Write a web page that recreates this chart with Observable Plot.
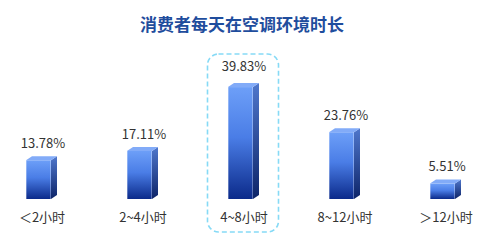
<!DOCTYPE html>
<html>
<head>
<meta charset="utf-8">
<script src="https://cdn.jsdelivr.net/npm/d3@7"></script>
<script src="https://cdn.jsdelivr.net/npm/@observablehq/plot@0.6"></script>
<style>
  body { margin: 0; background: #fff; font-family: "Noto Sans CJK SC", "Noto Sans", sans-serif; }
  #title { height: 44px; line-height: 48px; text-align: center; font-size: 17px; font-weight: bold; color: #1f4d9d; }
  #chart svg { display: block; }
</style>
</head>
<body>
<div id="title">消费者每天在空调环境时长</div>
<div id="chart"></div>
<script>
// Daily time spent in air-conditioned environments (share of consumers, %)
const categories = ["＜2小时", "2~4小时", "4~8小时", "8~12小时", "＞12小时"];
const shares = [13.78, 17.11, 39.83, 23.76, 5.51];
const highlighted = "4~8小时";

const data = categories.map((cat, i) => ({cat, val: shares[i]}));

const W = 484, H = 204;
const FRONT_L = 15.5, FRONT_R = 9.5;   // front face extent around the band centre
const DEPTH_X = 6, DEPTH_Y = 4;        // 3D depth offset

// gradients + dashed highlight frame
function defsAndFrame(index, scales) {
  const ns = "http://www.w3.org/2000/svg";
  const g = document.createElementNS(ns, "g");
  g.innerHTML = `
    <defs>
      <linearGradient id="gFront" x1="0" y1="0" x2="0" y2="1">
        <stop offset="0" stop-color="#6d9ff8"/>
        <stop offset="0.45" stop-color="#4a7de6"/>
        <stop offset="1" stop-color="#0b2a8a"/>
      </linearGradient>
      <linearGradient id="gSide" x1="0" y1="0" x2="0" y2="1">
        <stop offset="0" stop-color="#4f77cc"/>
        <stop offset="1" stop-color="#0d2468"/>
      </linearGradient>
    </defs>`;
  const x = scales.x;
  const c = x(highlighted) + x.bandwidth() / 2;
  const r = document.createElementNS(ns, "rect");
  r.setAttribute("x", c - 36);
  r.setAttribute("y", 10);
  r.setAttribute("width", 71);
  r.setAttribute("height", 178);
  r.setAttribute("rx", 11);
  r.setAttribute("fill", "none");
  r.setAttribute("stroke", "#86daf6");
  r.setAttribute("stroke-width", 1.6);
  r.setAttribute("stroke-dasharray", "5,3");
  g.appendChild(r);
  return g;
}

// side and top faces of each bar, placed with the x and y scales
function barDepth(index, scales) {
  const ns = "http://www.w3.org/2000/svg";
  const g = document.createElementNS(ns, "g");
  const x = scales.x, y = scales.y;
  for (const d of data) {
    const c = x(d.cat) + x.bandwidth() / 2;
    const top = y(d.val), base = y(0);
    const l = c - FRONT_L, rgt = c + FRONT_R;
    const side = document.createElementNS(ns, "path");
    side.setAttribute("d", `M${rgt},${top}L${rgt + DEPTH_X},${top - DEPTH_Y}L${rgt + DEPTH_X},${base - DEPTH_Y}L${rgt},${base}Z`);
    side.setAttribute("fill", "url(#gSide)");
    g.appendChild(side);
    const cap = document.createElementNS(ns, "path");
    cap.setAttribute("d", `M${l},${top}L${l + DEPTH_X},${top - DEPTH_Y}L${rgt + DEPTH_X},${top - DEPTH_Y}L${rgt},${top}Z`);
    cap.setAttribute("fill", "#82abf8");
    g.appendChild(cap);
  }
  return g;
}

const xRange = [-10.3, 497.8];
const bw = (xRange[1] - xRange[0]) / categories.length;

const chart = Plot.plot({
  width: W,
  height: H,
  style: {background: "transparent", fontFamily: "\"Noto Sans CJK SC\", sans-serif"},
  x: {type: "band", domain: categories, range: xRange, padding: 0, axis: null},
  y: {domain: [0, 40], range: [155, 155 - 40 * 2.81], axis: null},
  marks: [
    defsAndFrame,
    Plot.barY(data, {
      x: "cat", y: "val", fill: "url(#gFront)",
      insetLeft: bw / 2 - FRONT_L, insetRight: bw / 2 - FRONT_R
    }),
    barDepth,
    Plot.text(data.filter(d => d.cat !== highlighted), {
      x: "cat", y: "val", text: d => d.val.toFixed(2) + "%",
      dy: -17, dx: 1, fontSize: 13, fill: "#333"
    }),
    Plot.text(data.filter(d => d.cat === highlighted), {
      x: "cat", y: "val", text: d => d.val.toFixed(2) + "%",
      dy: -21, fontSize: 13, fill: "#333"
    }),
    Plot.text(data, {
      x: "cat", y: () => 0, text: "cat",
      dy: 18, fontSize: 13, fill: "#333"
    })
  ]
});

document.getElementById("chart").appendChild(chart);
</script>
</body>
</html>
